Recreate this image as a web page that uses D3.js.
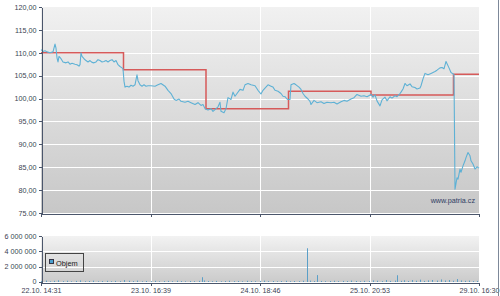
<!DOCTYPE html>
<html>
<head>
<meta charset="utf-8">
<script src="https://cdn.jsdelivr.net/npm/d3@7"></script>
<style>
  body { margin: 0; background: #fff; }
  svg { display: block; font-family: 'Liberation Sans', Arial, sans-serif; }
  .axis text { font-size: 7.2px; fill: #3b4252; }
  .axis path, .axis line { stroke: #4b566b; shape-rendering: crispEdges; }
  .grid line { stroke: #ffffff; stroke-width: 1; shape-rendering: crispEdges; }
</style>
</head>
<body>
<div id="main"></div>
<script>
'use strict';
// - - - - - - - - - -

// data (x in trading bar index)
const xTickPos = [0, 109.5, 219, 328.5, 438];
const xTickLabels = ['22.10. 14:31', '23.10. 16:39', '24.10. 18:46', '25.10. 20:53', '29.10. 16:30'];

const priceTicks = [75, 80, 85, 90, 95, 100, 105, 110, 115, 120];
const priceTickLabels = ['75.00', '80,00', '85,00', '90,00', '95,00', '100,00', '105,00', '110,00', '115,00', '120,00'];

const volTicks = [0, 2000000, 4000000, 6000000];
const volTickLabels = ['0', '2 000 000', '4 000 000', '6 000 000'];

const priceT = [0, 2, 4, 6, 9, 12, 14, 15, 16, 17, 18, 20, 22, 25, 27, 29, 31, 34, 36, 38, 39,
  40, 41, 43, 45, 47, 49, 51, 53, 55, 57, 59, 61, 63, 65, 67, 69, 71, 73, 75, 77, 79, 81, 82,
  83, 84, 86, 88, 90, 92, 94, 96, 97, 99, 101, 103, 105, 107, 110, 114, 117, 120, 124, 127,
  130, 133, 135, 138, 140, 144, 147, 150, 154, 157, 160, 162, 164, 167, 170, 172, 174, 177,
  179, 180, 183, 185, 187, 190, 192, 194, 196, 199, 202, 204, 207, 210, 214, 217, 220, 222,
  224, 227, 230, 232, 234, 237, 240, 242, 244, 246, 247, 249, 250, 253, 255, 258, 260, 262,
  264, 267, 269, 270, 273, 276, 280, 283, 286, 290, 293, 296, 300, 303, 306, 310, 313, 316,
  320, 323, 326, 330, 332, 334, 336, 339, 341, 344, 346, 349, 351, 354, 356, 359, 360, 362,
  364, 366, 369, 371, 374, 376, 379, 380, 382, 384, 387, 390, 392, 394, 396, 399, 401, 403,
  405, 408, 410, 412, 413, 414, 416, 417, 419, 420, 422, 424, 425, 427, 429, 430, 432, 434,
  436, 438];
const priceV = [110.7, 110.3, 110.45, 110.2, 110.0, 110.2, 111.9, 111.0, 108.9, 108.0, 109.2,
  108.7, 108.0, 107.8, 108.0, 107.5, 107.7, 107.5, 107.4, 107.1, 107.4,
  110.0, 109.2, 108.7, 108.3, 108.0, 108.3, 107.9, 107.8, 108.0, 108.5, 108.3, 108.0, 108.1,
  108.3, 108.0, 108.3, 108.5, 108.0, 108.3, 107.4, 107.0, 106.7, 106.5,
  103.8, 102.5, 102.7, 102.5, 102.9, 102.7, 103.0, 105.2, 103.9, 103.0, 102.7, 103.0, 102.7,
  102.8, 102.8, 102.7, 103.0, 103.3, 102.7, 101.8,
  101.1, 99.9, 99.6, 99.9, 99.4, 99.2, 99.4, 99.1, 98.7, 99.1, 98.5, 98.7, 97.8, 97.5, 97.8,
  97.2, 97.6, 98.2, 99.2, 97.2, 96.9, 97.8, 100.2, 99.8, 101.4, 100.5, 101.1, 102.0, 101.8,
  103.0, 103.3, 103.0, 102.8, 101.8, 101.0, 101.8,
  102.3, 103.0, 102.7, 102.5, 101.8, 101.6, 101.1, 100.5, 100.4, 99.9, 99.8, 99.8, 103.0,
  103.3, 103.0, 102.5, 102.0, 101.1, 100.5, 99.9, 99.4, 98.7, 99.6, 99.1, 99.3, 98.9, 99.2,
  99.1, 99.2, 98.8, 99.3, 99.6, 99.4, 99.9, 100.2, 100.9, 100.5, 100.6, 100.4, 100.9,
  100.3, 100.8, 99.5, 98.4, 99.7, 100.3, 99.5, 100.4, 100.1, 100.6, 100.4, 101.1, 101.4,
  102.1, 103.3, 102.8, 103.2, 102.6, 102.4, 102.1, 102.3, 102.8, 104.3, 105.5, 105.2, 105.5,
  105.7, 105.9, 106.2, 106.7, 106.8, 106.5, 108.1, 106.7, 105.7, 105.4, 105.2, 80.2, 82.7,
  82.4, 84.6, 83.9, 85.3, 86.4, 87.1, 88.2, 87.5, 86.4, 85.7, 84.6, 85.1, 84.8, 85.0];

// reference level (step line)
const refStart = [0, 82.5, 165, 247.5, 330, 412.5];
const refLevel = [110.0, 106.3, 97.8, 101.6, 100.8, 105.3];

const volT = [0, 5, 9, 13, 17, 22, 26, 30, 35, 39, 44, 48, 52, 57, 61, 66, 70, 74, 79, 83, 88,
  92, 96, 101, 105, 110, 114, 118, 123, 127, 131, 136, 140, 144, 149, 153, 158, 161, 163, 167,
  171, 175, 180, 184, 188, 193, 197, 201, 206, 210, 214, 219, 223, 227, 232, 236, 240, 245,
  249, 253, 258, 262, 266, 269, 273, 276, 280, 284, 289, 293, 297, 302, 306, 310, 315, 319,
  323, 328, 332, 336, 341, 345, 349, 354, 356, 360, 363, 367, 371, 375, 379, 383, 387, 391,
  396, 400, 404, 408, 412, 416, 420, 424, 428, 432, 436];
const volV = [120000, 180000, 90000, 150000, 220000, 110000, 160000, 90000, 140000, 200000,
  100000, 130000, 170000, 90000, 120000, 150000, 100000, 140000, 110000, 250000, 160000,
  120000, 180000, 90000, 130000, 110000, 150000, 90000, 120000, 140000, 100000, 160000,
  120000, 90000, 130000, 110000, 150000, 620000, 200000, 120000, 100000, 140000, 90000,
  120000, 160000, 110000, 130000, 90000, 150000, 120000, 100000, 140000, 180000, 110000,
  130000, 90000, 120000, 150000, 100000, 130000, 110000, 160000, 4400000, 180000, 120000,
  900000, 140000, 100000, 130000, 160000, 110000, 140000, 120000, 180000, 130000, 100000,
  150000, 120000, 200000, 160000, 110000, 250000, 140000, 180000, 880000, 150000, 220000,
  130000, 250000, 160000, 300000, 140000, 210000, 260000, 180000, 330000, 190000, 250000,
  160000, 380000, 200000, 150000, 180000, 120000, 140000];

// configuration
let
  svg = undefined,
  xScale = undefined,
  yScale = undefined,
  vScale = undefined;

const canvas = {
  context: '#main',
  width: 500,
  height: 296
};
const plot = {
  left: 41,
  right: 479,
  top: 7,
  bottom: 213
};
const volPlot = {
  top: 236,
  bottom: 282
};
const colors = {
  price: '#5eb1d5',
  ref: '#d65a5a',
  volume: '#5a9fc8',
  text: '#3b4252'
};

// methods
function setCanvas(domContext) {
  svg = d3.select(domContext)
    .append('svg')
    .attr('width', canvas.width)
    .attr('height', canvas.height);

  const defs = svg.append('defs');
  const g1 = defs.append('linearGradient')
    .attr('id', 'bgMain')
    .attr('x1', 0).attr('y1', 0).attr('x2', 0).attr('y2', 1);
  g1.append('stop').attr('offset', '0%').attr('stop-color', '#f1f1f1');
  g1.append('stop').attr('offset', '100%').attr('stop-color', '#c7c7c7');

  const g2 = defs.append('linearGradient')
    .attr('id', 'bgVol')
    .attr('x1', 0).attr('y1', 0).attr('x2', 0).attr('y2', 1);
  g2.append('stop').attr('offset', '0%').attr('stop-color', '#f2f2f2');
  g2.append('stop').attr('offset', '100%').attr('stop-color', '#cbcbcb');
}

function setScales() {
  xScale = d3.scaleLinear()
    .domain([0, 438])
    .range([plot.left, plot.right]);

  yScale = d3.scaleLinear()
    .domain([75, 120])
    .range([plot.bottom, plot.top]);

  vScale = d3.scaleLinear()
    .domain([0, 6000000])
    .range([volPlot.bottom, volPlot.top]);
}

function drawPanel(top, bottom, fill, scale, ticks) {
  svg.append('rect')
    .attr('x', plot.left)
    .attr('y', top)
    .attr('width', plot.right - plot.left)
    .attr('height', bottom - top)
    .attr('fill', fill);

  const grid = svg.append('g').attr('class', 'grid');
  grid.selectAll('.h')
    .data(ticks)
    .enter()
    .append('line')
    .attr('x1', plot.left)
    .attr('x2', plot.right)
    .attr('y1', d => Math.round(scale(d)) + 0.5)
    .attr('y2', d => Math.round(scale(d)) + 0.5);

  grid.selectAll('.v')
    .data(xTickPos.slice(1, -1))
    .enter()
    .append('line')
    .attr('x1', d => Math.round(xScale(d)) + 0.5)
    .attr('x2', d => Math.round(xScale(d)) + 0.5)
    .attr('y1', top)
    .attr('y2', bottom);
}

function drawPrice() {
  const refPoints = refStart.map((s, i) => [s, refLevel[i]]);
  refPoints.push([438, refLevel[refLevel.length - 1]]);

  svg.append('path')
    .datum(refPoints)
    .attr('fill', 'none')
    .attr('stroke', colors.ref)
    .attr('stroke-width', 1.5)
    .attr('d', d3.line()
      .curve(d3.curveStepAfter)
      .x(d => xScale(d[0]))
      .y(d => yScale(d[1])));

  const points = priceT.map((t, i) => [t, priceV[i]]);
  svg.append('path')
    .datum(points)
    .attr('fill', 'none')
    .attr('stroke', colors.price)
    .attr('stroke-width', 1.1)
    .attr('stroke-linejoin', 'round')
    .attr('d', d3.line()
      .x(d => xScale(d[0]))
      .y(d => yScale(d[1])));

  svg.append('text')
    .attr('x', 475)
    .attr('y', 203)
    .attr('text-anchor', 'end')
    .attr('font-size', '7.2px')
    .attr('fill', '#2f3d63')
    .text('www.patria.cz');
}

function drawVolume() {
  svg.append('g')
    .selectAll('line')
    .data(volT.map((t, i) => [t, volV[i]]))
    .enter()
    .append('line')
    .attr('x1', d => Math.round(xScale(d[0])) + 0.5)
    .attr('x2', d => Math.round(xScale(d[0])) + 0.5)
    .attr('y1', vScale(0))
    .attr('y2', d => vScale(d[1]))
    .attr('stroke', colors.volume)
    .attr('stroke-width', 1);

  // legend
  const lg = svg.append('g');
  lg.append('rect')
    .attr('x', 45.5).attr('y', 253.5)
    .attr('width', 38).attr('height', 18)
    .attr('fill', 'none')
    .attr('stroke', '#444');
  lg.append('rect')
    .attr('x', 49.5).attr('y', 259.5)
    .attr('width', 4).attr('height', 4)
    .attr('fill', '#4aa0d0')
    .attr('stroke', '#334');
  lg.append('text')
    .attr('x', 56).attr('y', 265.5)
    .attr('font-size', '7.4px')
    .attr('fill', '#222')
    .text('Objem');
}

function setAxes() {
  svg.append('g')
    .attr('class', 'axis')
    .attr('transform', 'translate(' + (plot.left + 0.5) + ',0)')
    .call(d3.axisLeft(yScale)
      .tickValues(priceTicks)
      .tickFormat((d, i) => priceTickLabels[i])
      .tickSize(3)
      .tickSizeOuter(0)
      .tickPadding(2));

  svg.append('g')
    .attr('class', 'axis')
    .attr('transform', 'translate(0,' + (plot.bottom + 0.5) + ')')
    .call(d3.axisBottom(xScale)
      .tickValues(xTickPos)
      .tickFormat('')
      .tickSize(3)
      .tickSizeOuter(0));

  svg.append('g')
    .attr('class', 'axis')
    .attr('transform', 'translate(' + (plot.left + 0.5) + ',0)')
    .call(d3.axisLeft(vScale)
      .tickValues(volTicks)
      .tickFormat((d, i) => volTickLabels[i])
      .tickSize(3)
      .tickSizeOuter(0)
      .tickPadding(2))
    .selectAll('text')
    .attr('dy', (d) => d === 0 ? '0.2em' : '0.32em');

  svg.append('g')
    .attr('class', 'axis')
    .attr('transform', 'translate(0,' + (volPlot.bottom + 0.5) + ')')
    .call(d3.axisBottom(xScale)
      .tickValues(xTickPos)
      .tickFormat((d, i) => xTickLabels[i])
      .tickSize(3)
      .tickSizeOuter(0)
      .tickPadding(2.5));

  // right frame line
  svg.append('line')
    .attr('x1', 498.5).attr('x2', 498.5)
    .attr('y1', 0).attr('y2', canvas.height)
    .attr('stroke', '#7d8899');
}

// control
setCanvas(canvas.context);
setScales();
drawPanel(plot.top, plot.bottom, 'url(#bgMain)', yScale, priceTicks.slice(1, -1));
drawPanel(volPlot.top, volPlot.bottom, 'url(#bgVol)', vScale, volTicks.slice(1, -1));
drawPrice();
drawVolume();
setAxes();

// - - - - - - - - - -
</script>
</body>
</html>
